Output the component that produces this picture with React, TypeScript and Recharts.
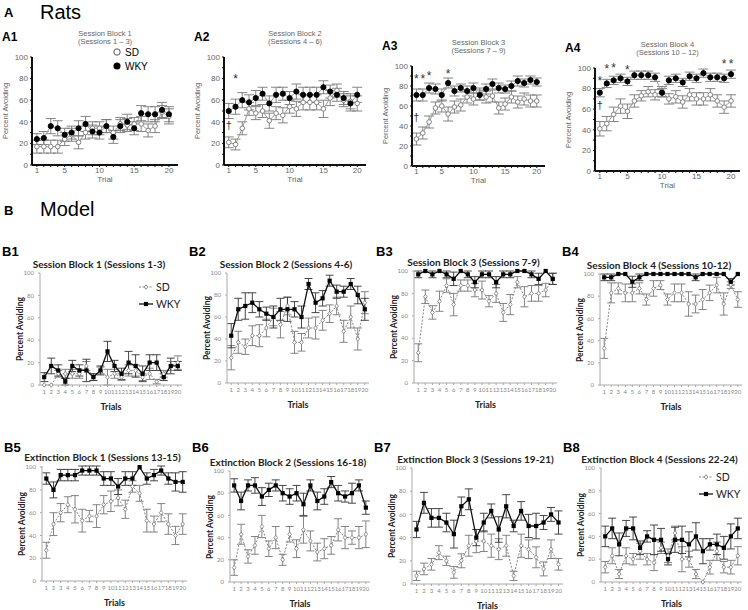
import React from "react";
import { LineChart, Line, XAxis, YAxis, ErrorBar, ReferenceDot } from "recharts";

const trials = [1, 2, 3, 4, 5, 6, 7, 8, 9, 10, 11, 12, 13, 14, 15, 16, 17, 18, 19, 20];

// Rats
const a1Wky = [24, 25, 36, 34, 28, 30, 34, 38, 31, 30, 36, 26, 36, 40, 34, 48, 47, 47, 51, 47];
const a1WkyErr = [5, 6, 7, 7, 6, 6, 7, 7, 6, 6, 6, 6, 6, 7, 6, 7, 7, 7, 7, 7];
const a1Sd = [17, 17, 17, 17, 24, 28, 21, 30, 34, 34, 36, 30, 38, 37, 38, 38, 32, 36, 49, 45];
const a1SdErr = [6, 6, 6, 6, 6, 6, 6, 6, 6, 6, 6, 6, 6, 6, 6, 7, 6, 6, 6, 7];

const a2Wky = [50, 54, 60, 58, 62, 66, 57, 65, 66, 62, 68, 65, 65, 65, 72, 68, 65, 62, 57, 65];
const a2WkyErr = [7, 7, 7, 7, 7, 6, 7, 7, 6, 6, 7, 7, 7, 7, 6, 6, 6, 6, 7, 7];
const a2Sd = [21, 19, 34, 52, 48, 50, 41, 48, 46, 54, 52, 58, 58, 58, 52, 62, 69, 60, 59, 57];
const a2SdErr = [5, 5, 6, 6, 6, 6, 7, 6, 7, 6, 7, 7, 7, 7, 8, 7, 6, 6, 7, 7];

const a3Wky = [71, 71, 78, 77, 71, 83, 75, 78, 75, 78, 71, 77, 82, 78, 77, 80, 85, 83, 86, 84];
const a3WkyErr = [6, 6, 5, 5, 6, 5, 5, 4, 5, 5, 5, 5, 5, 5, 4, 5, 5, 4, 4, 4];
const a3Sd = [27, 33, 44, 58, 60, 52, 59, 61, 69, 67, 72, 69, 70, 58, 62, 69, 64, 67, 65, 65];
const a3SdErr = [6, 6, 6, 6, 6, 7, 6, 6, 6, 6, 6, 6, 6, 6, 6, 6, 6, 6, 6, 6];

const a4Wky = [76, 85, 88, 90, 87, 93, 93, 93, 91, 76, 88, 90, 86, 92, 90, 95, 91, 91, 90, 94];
const a4WkyErr = [4, 4, 4, 4, 4, 4, 4, 4, 4, 4, 4, 4, 4, 4, 4, 4, 4, 4, 4, 4];
const a4Sd = [41, 46, 55, 63, 58, 68, 73, 77, 74, 77, 70, 72, 67, 74, 70, 70, 74, 68, 62, 68];
const a4SdErr = [7, 7, 7, 7, 7, 6, 5, 5, 5, 5, 5, 6, 6, 6, 6, 6, 6, 6, 6, 6];

// Model
const b1Wky = [7, 17, 13, 3, 17, 13, 13, 7, 13, 30, 17, 10, 20, 17, 10, 20, 20, 7, 17, 17];
const b1WkyErr = [4, 7, 5, 3, 5, 5, 10, 3, 4, 9, 5, 5, 10, 10, 7, 7, 7, 3, 7, 4];
const b1Sd = [0, 0, 10, 10, 10, 10, 17, 7, 13, 7, 10, 7, 13, 13, 7, 10, 3, 10, 17, 20];
const b1SdErr = [0, 0, 3, 4, 4, 4, 4, 3, 3, 7, 4, 3, 5, 5, 3, 5, 2, 3, 4, 6];

const b2Wky = [43, 67, 70, 73, 67, 63, 60, 67, 67, 67, 60, 90, 73, 77, 93, 83, 83, 90, 80, 67];
const b2WkyErr = [11, 10, 12, 9, 7, 6, 10, 10, 11, 7, 10, 5, 9, 7, 5, 6, 5, 5, 8, 10];
const b2Sd = [23, 37, 33, 43, 43, 50, 60, 53, 70, 37, 37, 50, 50, 57, 63, 70, 47, 60, 40, 73];
const b2SdErr = [11, 10, 7, 9, 10, 8, 8, 12, 8, 10, 8, 9, 10, 9, 8, 8, 10, 10, 10, 10];

const b3Wky = [97, 100, 97, 100, 97, 93, 100, 97, 90, 97, 97, 90, 97, 97, 100, 100, 97, 93, 100, 93];
const b3WkyErr = [3, 0, 3, 0, 3, 6, 0, 3, 5, 3, 3, 5, 3, 3, 0, 0, 3, 5, 0, 5];
const b3Sd = [27, 77, 63, 73, 87, 70, 87, 87, 83, 83, 73, 80, 63, 70, 90, 77, 80, 80, 83, 93];
const b3SdErr = [8, 6, 6, 9, 6, 10, 5, 5, 6, 8, 5, 8, 8, 9, 5, 9, 7, 7, 6, 5];

const b4Wky = [97, 97, 100, 100, 93, 97, 100, 100, 100, 100, 100, 100, 100, 97, 100, 100, 100, 100, 93, 100];
const b4WkyErr = [3, 3, 0, 0, 5, 3, 0, 0, 0, 0, 0, 0, 0, 3, 0, 0, 0, 0, 3, 0];
const b4Sd = [33, 83, 87, 83, 83, 87, 77, 87, 90, 77, 83, 83, 73, 73, 77, 83, 90, 73, 90, 77];
const b4SdErr = [9, 9, 5, 8, 8, 5, 5, 7, 4, 5, 8, 8, 11, 8, 9, 7, 7, 10, 3, 7];

const b5Wky = [90, 80, 93, 93, 93, 97, 97, 97, 90, 90, 83, 90, 90, 100, 90, 93, 97, 90, 87, 87];
const b5WkyErr = [5, 7, 5, 5, 5, 4, 4, 4, 6, 6, 7, 6, 6, 0, 5, 5, 4, 5, 8, 9];
const b5Sd = [27, 50, 60, 67, 63, 53, 57, 57, 67, 70, 73, 63, 83, 77, 53, 50, 60, 50, 40, 50];
const b5SdErr = [7, 10, 8, 7, 12, 10, 5, 10, 8, 9, 7, 8, 5, 7, 10, 7, 8, 9, 8, 9];

const b6Wky = [87, 73, 87, 87, 77, 83, 87, 80, 77, 80, 70, 87, 73, 77, 90, 80, 77, 80, 87, 67];
const b6WkyErr = [6, 8, 5, 7, 8, 6, 5, 7, 7, 7, 10, 5, 8, 7, 5, 7, 5, 9, 5, 6];
const b6Sd = [13, 43, 23, 33, 50, 30, 40, 20, 43, 30, 47, 37, 27, 30, 33, 47, 40, 40, 40, 43];
const b6SdErr = [7, 9, 6, 8, 10, 7, 10, 5, 7, 8, 12, 9, 8, 9, 8, 10, 10, 6, 10, 12];

const b7Wky = [47, 70, 57, 57, 53, 43, 67, 73, 40, 53, 63, 47, 67, 50, 63, 50, 50, 53, 60, 53];
const b7WkyErr = [7, 9, 8, 8, 8, 12, 8, 9, 7, 8, 6, 11, 10, 5, 8, 10, 11, 6, 6, 10];
const b7Sd = [7, 13, 17, 27, 20, 10, 20, 33, 37, 37, 33, 30, 33, 7, 33, 30, 23, 13, 30, 17];
const b7SdErr = [4, 5, 5, 6, 4, 5, 6, 9, 10, 9, 10, 9, 9, 4, 10, 8, 9, 6, 8, 5];

const b8Wky = [40, 47, 33, 47, 47, 30, 40, 37, 37, 20, 37, 37, 33, 40, 27, 33, 33, 30, 40, 47];
const b8WkyErr = [9, 9, 10, 7, 10, 6, 5, 13, 10, 5, 11, 12, 11, 12, 11, 5, 9, 10, 11, 9];
const b8Sd = [13, 23, 7, 23, 20, 27, 20, 17, 30, 23, 43, 20, 20, 7, 0, 13, 27, 13, 13, 23];
const b8SdErr = [5, 7, 4, 7, 5, 7, 5, 7, 5, 6, 6, 11, 7, 4, 0, 6, 8, 5, 6, 8];

// significance marks on the rat panels
const a2Marks = [{ x: 2, y: 80, s: "*" }, { x: 1, y: 37, s: "†" }];
const a3Marks = [
  { x: 1, y: 87, s: "*" }, { x: 2, y: 87, s: "*" }, { x: 3, y: 90, s: "*" },
  { x: 6, y: 92, s: "*" }, { x: 1, y: 49, s: "†" },
];
const a4Marks = [
  { x: 1, y: 88, s: "*" }, { x: 2, y: 99, s: "*" }, { x: 3, y: 100, s: "*" },
  { x: 5, y: 98, s: "*" }, { x: 19, y: 104, s: "*" }, { x: 20, y: 104, s: "*" },
  { x: 1, y: 64, s: "†" },
];

const ratFont = "'Liberation Sans', Arial, sans-serif";
const modelFont = "Lato, 'Noto Sans', sans-serif";

type Mark = { x: number; y: number; s: string };
type PanelProps = {
  kind: "rat" | "model";
  left: number; top: number; w: number; h: number;
  wky: number[]; wkyErr: number[]; sd: number[]; sdErr: number[];
  marks?: Mark[];
};

const YW = 22;
const XH = 16;
const PAD = 14;

function RatDot(filled: boolean) {
  return (p: any) => (
    <circle key={p.index} cx={p.cx} cy={p.cy} r={filled ? 2.6 : 2.3} fill={filled ? "#000" : "#fff"}
      stroke={filled ? "#000" : "#777"} strokeWidth={0.9} />
  );
}
function ModelDot(filled: boolean) {
  return (p: any) => filled ? (
    <rect key={p.index} x={p.cx - 2.1} y={p.cy - 2.1} width={4.2} height={4.2} fill="#000" />
  ) : (
    <path key={p.index} d={`M${p.cx},${p.cy - 2.3}L${p.cx + 1.8},${p.cy}L${p.cx},${p.cy + 2.3}L${p.cx - 1.8},${p.cy}Z`}
      fill="#fff" stroke="#777" strokeWidth={0.8} />
  );
}

function Panel({ kind, left, top, w, h, wky, wkyErr, sd, sdErr, marks = [] }: PanelProps) {
  const rows = trials.map((t, i) => ({ trial: t, wky: wky[i], wkyErr: wkyErr[i], sd: sd[i], sdErr: sdErr[i] }));
  const rat = kind === "rat";
  const axisColor = rat ? "#111" : "#aaa";
  const tick = rat
    ? { fontSize: 8, fill: "#666", fontFamily: ratFont }
    : { fontSize: 6, fill: "#888", fontFamily: modelFont };
  return (
    <div style={{ position: "absolute", left: left - YW, top: top - PAD }}>
      <LineChart width={YW + w + 6} height={PAD + h + XH} data={rows}
        margin={{ top: PAD, right: 6, bottom: 0, left: 0 }}>
        <XAxis type="number" dataKey="trial" domain={rat ? [0.3, 21.3] : [0.4, 20.6]}
          ticks={trials} interval={0} height={XH}
          tickFormatter={(v: number) => (rat ? ([1, 5, 10, 15, 20].includes(v) ? String(v) : "") : String(v))}
          tick={tick} tickSize={2} tickMargin={rat ? 0 : 3} tickLine={{ stroke: axisColor }}
          axisLine={{ stroke: axisColor, strokeWidth: rat ? 2 : 1 }} />
        <YAxis type="number" domain={[0, 100]} width={YW}
          ticks={rat ? [0, 10, 20, 30, 40, 50, 60, 70, 80, 90, 100] : [0, 20, 40, 60, 80, 100]}
          tickFormatter={(v: number) => (v % 20 === 0 ? String(v) : "")}
          tick={tick} tickSize={2} tickMargin={rat ? 2 : 4} tickLine={{ stroke: axisColor }}
          axisLine={{ stroke: axisColor, strokeWidth: rat ? 2 : 1 }} />
        <Line dataKey="sd" isAnimationActive={false} stroke={rat ? "#999" : "#888"} strokeWidth={1}
          strokeDasharray={rat ? undefined : "2 1.5"} dot={rat ? RatDot(false) : ModelDot(false)}>
          <ErrorBar dataKey="sdErr" direction="y" width={rat ? 5 : 4} stroke="#777" strokeWidth={0.9} />
        </Line>
        <Line dataKey="wky" isAnimationActive={false} stroke={rat ? "#999" : "#111"} strokeWidth={rat ? 1 : 1.3}
          dot={rat ? RatDot(true) : ModelDot(true)}>
          <ErrorBar dataKey="wkyErr" direction="y" width={rat ? 5 : 4} stroke={rat ? "#777" : "#333"} strokeWidth={0.9} />
        </Line>
        {marks.map((m, i) => (
          <ReferenceDot key={i} x={m.x} y={m.y} r={0} ifOverflow="visible"
            label={{ value: m.s, position: "center", fontSize: m.s === "*" ? 12 : 11, fill: "#333", fontFamily: ratFont }} />
        ))}
      </LineChart>
    </div>
  );
}

const abs = (l: number, t: number, extra: React.CSSProperties = {}): React.CSSProperties => ({
  position: "absolute", left: l, top: t, whiteSpace: "nowrap", lineHeight: 1, ...extra,
});

function RatFrame({ id, title, sub, left, top, w, h }: { id: string; title: string; sub: string; left: number; top: number; w: number; h: number }) {
  return (
    <>
      <div style={abs(left - 30, top - 26, { fontFamily: ratFont, fontWeight: 700, fontSize: 12 })}>{id}</div>
      <div style={abs(left, top - 27, { width: w, textAlign: "center", fontFamily: ratFont, fontSize: 7.5, color: "#666" })}>
        {title}<br />{sub}
      </div>
      <div style={abs(left - 26, top + h / 2, { fontFamily: ratFont, fontSize: 7.5, color: "#666", transform: "translate(-50%,-50%) rotate(-90deg)" })}>
        Percent Avoiding
      </div>
      <div style={abs(left, top + h + 11, { width: w, textAlign: "center", fontFamily: ratFont, fontSize: 8, color: "#666" })}>Trial</div>
    </>
  );
}

function ModelFrame({ id, title, left, top, w, h, labelTop }: { id: string; title: string; left: number; top: number; w: number; h: number; labelTop: number }) {
  return (
    <>
      <div style={abs(left - 38, labelTop, { fontFamily: ratFont, fontWeight: 700, fontSize: 13 })}>{id}</div>
      <div style={abs(left - 22, top - 14, { width: w + 20, textAlign: "center", fontFamily: modelFont, fontWeight: 700, fontSize: 10, color: "#222" })}>
        {title}
      </div>
      <div style={abs(left - 20, top + h / 2, { fontFamily: modelFont, fontWeight: 700, fontSize: 8.5, color: "#222", transform: "translate(-50%,-50%) rotate(-90deg)" })}>
        Percent Avoiding
      </div>
      <div style={abs(left, top + h + 17, { width: w, textAlign: "center", fontFamily: modelFont, fontWeight: 700, fontSize: 9, color: "#222" })}>Trials</div>
    </>
  );
}

function ModelLegend({ left, top }: { left: number; top: number }) {
  return (
    <svg style={{ position: "absolute", left, top }} width={50} height={32}>
      <line x1={2} y1={6} x2={16} y2={6} stroke="#888" strokeDasharray="2 1.5" />
      <path d="M9,3.7L10.8,6L9,8.3L7.2,6Z" fill="#fff" stroke="#777" strokeWidth={0.8} />
      <text x={19} y={10} fontSize={10.5} fontFamily={modelFont} fill="#222">SD</text>
      <line x1={2} y1={23} x2={16} y2={23} stroke="#111" strokeWidth={1.3} />
      <rect x={6.9} y={20.9} width={4.2} height={4.2} fill="#000" />
      <text x={19} y={27} fontSize={10.5} fontFamily={modelFont} fill="#222">WKY</text>
    </svg>
  );
}

export default function App() {
  return (
    <div style={{ position: "absolute", left: 0, top: 0, width: 748, height: 610, background: "#fff", overflow: "hidden" }}>
      <div style={abs(4, 6, { fontFamily: ratFont, fontWeight: 700, fontSize: 13 })}>A</div>
      <div style={abs(40, 2, { fontFamily: ratFont, fontSize: 20 })}>Rats</div>

      <RatFrame id="A1" title="Session Block 1" sub="(Sessions 1 – 3)" left={32} top={57} w={146} h={108} />
      <Panel kind="rat" left={32} top={57} w={146} h={108} wky={a1Wky} wkyErr={a1WkyErr} sd={a1Sd} sdErr={a1SdErr} />
      <svg style={{ position: "absolute", left: 112, top: 46 }} width={60} height={28}>
        <circle cx={5} cy={6} r={3.2} fill="#fff" stroke="#555" />
        <text x={13} y={10} fontSize={10} fontFamily={ratFont}>SD</text>
        <circle cx={5} cy={20} r={3.5} fill="#000" />
        <text x={13} y={24} fontSize={10} fontFamily={ratFont}>WKY</text>
      </svg>

      <RatFrame id="A2" title="Session Block 2" sub="(Sessions 4 – 6)" left={224} top={57} w={142} h={108} />
      <Panel kind="rat" left={224} top={57} w={142} h={108} wky={a2Wky} wkyErr={a2WkyErr} sd={a2Sd} sdErr={a2SdErr} marks={a2Marks} />

      <RatFrame id="A3" title="Session Block 3" sub="(Sessions 7 – 9)" left={412} top={66} w={133} h={100} />
      <Panel kind="rat" left={412} top={66} w={133} h={100} wky={a3Wky} wkyErr={a3WkyErr} sd={a3Sd} sdErr={a3SdErr} marks={a3Marks} />

      <RatFrame id="A4" title="Session Block 4" sub="(Sessions 10 – 12)" left={595} top={68} w={145} h={103} />
      <Panel kind="rat" left={595} top={68} w={145} h={103} wky={a4Wky} wkyErr={a4WkyErr} sd={a4Sd} sdErr={a4SdErr} marks={a4Marks} />

      <div style={abs(4, 204, { fontFamily: ratFont, fontWeight: 700, fontSize: 13 })}>B</div>
      <div style={abs(40, 199, { fontFamily: ratFont, fontSize: 20 })}>Model</div>

      <ModelFrame id="B1" title="Session Block 1 (Sessions 1-3)" left={40} top={273} w={142} h={112} labelTop={245} />
      <Panel kind="model" left={40} top={273} w={142} h={112} wky={b1Wky} wkyErr={b1WkyErr} sd={b1Sd} sdErr={b1SdErr} />
      <ModelLegend left={137} top={281} />

      <ModelFrame id="B2" title="Session Block 2 (Sessions 4-6)" left={227} top={273} w={142} h={110} labelTop={245} />
      <Panel kind="model" left={227} top={273} w={142} h={110} wky={b2Wky} wkyErr={b2WkyErr} sd={b2Sd} sdErr={b2SdErr} />

      <ModelFrame id="B3" title="Session Block 3 (Sessions 7-9)" left={414} top={271} w={143} h={112} labelTop={245} />
      <Panel kind="model" left={414} top={271} w={143} h={112} wky={b3Wky} wkyErr={b3WkyErr} sd={b3Sd} sdErr={b3SdErr} />

      <ModelFrame id="B4" title="Session Block 4 (Sessions 10-12)" left={600} top={274} w={142} h={111} labelTop={245} />
      <Panel kind="model" left={600} top={274} w={142} h={111} wky={b4Wky} wkyErr={b4WkyErr} sd={b4Sd} sdErr={b4SdErr} />

      <ModelFrame id="B5" title="Extinction Block 1 (Sessions 13-15)" left={42} top={466} w={145} h={115} labelTop={441} />
      <Panel kind="model" left={42} top={466} w={145} h={115} wky={b5Wky} wkyErr={b5WkyErr} sd={b5Sd} sdErr={b5SdErr} />

      <ModelFrame id="B6" title="Extinction Block 2 (Sessions 16-18)" left={230} top={471} w={140} h={111} labelTop={441} />
      <Panel kind="model" left={230} top={471} w={140} h={111} wky={b6Wky} wkyErr={b6WkyErr} sd={b6Sd} sdErr={b6SdErr} />

      <ModelFrame id="B7" title="Extinction Block 3 (Sessions 19-21)" left={412} top={468} w={151} h={116} labelTop={441} />
      <Panel kind="model" left={412} top={468} w={151} h={116} wky={b7Wky} wkyErr={b7WkyErr} sd={b7Sd} sdErr={b7SdErr} />

      <ModelFrame id="B8" title="Extinction Block 4 (Sessions 22-24)" left={601} top={468} w={141} h={114} labelTop={441} />
      <Panel kind="model" left={601} top={468} w={141} h={114} wky={b8Wky} wkyErr={b8WkyErr} sd={b8Sd} sdErr={b8SdErr} />
      <ModelLegend left={697} top={471} />
    </div>
  );
}
